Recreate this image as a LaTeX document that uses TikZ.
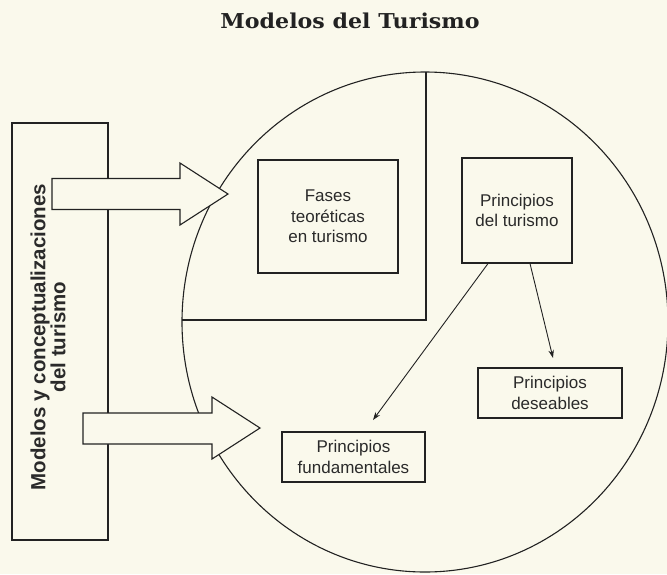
\documentclass[tikz,border=0pt]{standalone}
\usepackage{fontspec}
\usepackage{graphicx}
\newfontfamily\boxfont{Liberation Sans}
\newfontfamily\titlefont{DejaVu Serif}
\usetikzlibrary{arrows.meta,calc,shapes.geometric}
\definecolor{bgc}{HTML}{FAF9EC}
\definecolor{ink}{HTML}{222222}
\definecolor{txt}{HTML}{2A2A2A}
\begin{document}
\begin{tikzpicture}[x=1pt,y=-1pt,
  line width=1.1pt,
  textbox/.style={draw=ink, fill=none, inner sep=0pt, align=center, text=txt,
    font=\boxfont\fontsize{17}{20.5}\selectfont},
  blockarrow/.style={draw=ink, fill=bgc, line join=miter},
  conn/.style={draw=ink, line width=0.9pt, -{Stealth[length=8pt,width=5.5pt]}},
  divider/.style={draw=ink, line width=1.1pt}
]
\fill[bgc, draw=none] (0,0) rectangle (667,574);
\useasboundingbox (0,0) rectangle (667,574);

% title
\node[anchor=base, text=ink, inner sep=0pt, font=\titlefont\bfseries\fontsize{20.5}{24}\selectfont] (title) at (350,28)
  {\scalebox{1.08}[1]{Modelos del Turismo}};

% left box
\node[draw=ink, minimum width=96pt, minimum height=417pt, inner sep=0pt] (left) at (60,331.5) {};
\node[rotate=90, align=center, inner sep=0pt, text=txt,
  font=\boxfont\bfseries\fontsize{20.5}{20}\selectfont] (leftlbl) at (48,337)
  {Modelos y conceptualizaciones\\del turismo};

% big circle
\node[draw=ink, ellipse, minimum width=486pt, minimum height=500pt, inner sep=0pt] (circ) at (425,322) {};
\coordinate (ctop) at (426,72);
\coordinate (corner) at (426,320);
\coordinate (cleft) at (182,320);
\draw[divider] (ctop) -- (corner) -- (cleft);

% block arrows
\draw[blockarrow] (52,178.5) -- (180,178.5) -- (180,163) -- (228,194) -- (180,225) -- (180,209.5) -- (52,209.5) -- cycle;
\draw[blockarrow] (83,413) -- (212,413) -- (212,397) -- (260,428) -- (212,459) -- (212,444) -- (83,444) -- cycle;

% boxes
\node[textbox, minimum width=140pt, minimum height=113pt] (fases) at (328,216.5) {Fases\\teoréticas\\en turismo};
\node[textbox, minimum width=110pt, minimum height=105pt] (ptur) at (517,210.5) {Principios\\del turismo};
\node[textbox, minimum width=144pt, minimum height=50pt] (pdes) at (550,393) {Principios\\deseables};
\node[textbox, minimum width=143pt, minimum height=50pt] (pfun) at (353.5,457) {Principios\\fundamentales};

\coordinate (tipD) at (553,358);
\coordinate (tipF) at (373,420);
\draw[conn] ($(ptur.south)+(13,0)$) -- (tipD);
\draw[conn] ($(ptur.south)+(-29,0)$) -- (tipF);
\end{tikzpicture}
\end{document}
